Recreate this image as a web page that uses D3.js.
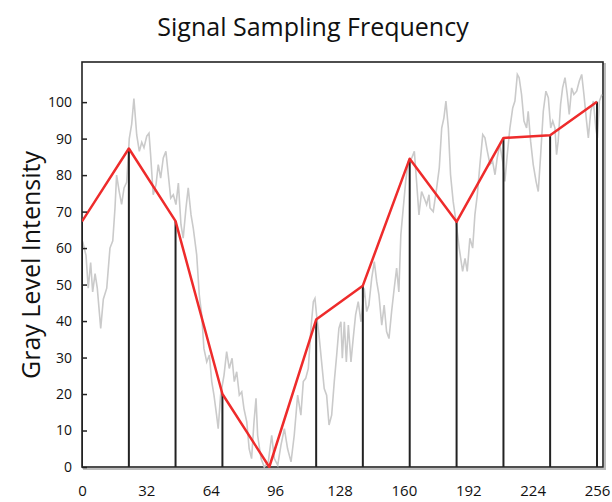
<!DOCTYPE html>
<html>
<head>
<meta charset="utf-8">
<script src="https://cdn.jsdelivr.net/npm/d3@7"></script>
<style>
  body { margin: 0; background: #fff; }
  svg text { font-family: "Open Sans", "Noto Sans", sans-serif; fill: #111; }
</style>
</head>
<body>
<div id="chart"></div>
<script>
// sampled values (red line + stems)
const sampleX = [0, 23.3, 46.5, 69.8, 93.1, 116.4, 139.6, 162.9, 186.2, 209.5, 232.7, 256];
const sampleY = [67.3, 87.3, 67.4, 20.0, 0, 40.4, 49.7, 84.5, 67.2, 90.2, 90.9, 100.1];

// original noisy signal (gray)
const signalX = [0.3, 2.0, 3.1, 4.3, 5.3, 6.5, 7.6, 9.3, 10.6, 12.3, 13.9, 15.3, 16.4, 17.2, 18.5, 19.7, 20.9, 22.2,
  23.5, 24.7, 25.8, 27.2, 28.5, 29.7, 30.8, 32.2, 33.3, 34.1, 35.4, 36.8, 37.9, 39.1, 40.4, 41.7, 42.9, 44.1, 45.4,
  46.7, 47.9, 49.2, 50.3, 51.7, 52.8, 54.2, 55.3, 57.0, 58.3, 59.5, 60.6, 62.0, 63.3, 64.5, 65.6, 66.9, 67.7, 68.9,
  70.6, 71.9, 73.2, 74.6, 75.7, 76.9, 78.2, 79.4, 80.5, 81.9, 83.1, 84.3, 85.5, 86.5, 87.3, 89.0, 90.6, 92.6, 94.3,
  95.6, 97.3, 98.9, 100.6, 102.2, 103.9, 105.5, 107.2, 108.8, 110.0, 111.2, 112.5, 113.8, 115.0, 115.8, 116.6, 117.8,
  119.1, 120.4, 121.6, 122.8, 124.1, 125.4, 126.6, 127.7, 128.7, 129.4, 130.4, 131.4, 132.4, 133.7, 134.8, 136.0,
  137.3, 138.7, 140.3, 141.5, 142.6, 144.0, 145.3, 146.5, 147.6, 149.0, 150.2, 151.4, 152.6, 153.9, 155.2, 156.4,
  157.5, 158.5, 159.7, 160.9, 162.2, 163.9, 165.2, 166.3, 167.5, 168.8, 170.1, 171.3, 172.5, 173.0, 174.6, 176.3,
  177.6, 178.8, 179.9, 180.9, 182.1, 183.2, 184.5, 185.9, 187.5, 189.2, 190.4, 191.5, 192.8, 194.2, 195.3, 196.5,
  197.8, 199.2, 200.3, 201.5, 202.8, 204.1, 205.3, 206.4, 207.7, 209.1, 210.2, 211.4, 212.7, 214.1, 215.2, 216.4,
  217.3, 218.5, 219.7, 221.0, 221.8, 223.0, 224.3, 225.7, 226.8, 228.0, 229.3, 230.6, 231.8, 233.0, 234.0, 235.1,
  235.9, 236.7, 237.9, 238.9, 240.1, 241.2, 242.2, 243.4, 244.5, 245.9, 247.2, 248.4, 249.5, 250.8, 251.7, 252.9,
  254.2, 255.4, 256.2, 257.2, 258.4];
const signalY = [61.8, 58, 49, 56, 48, 53, 49, 38, 46, 49, 60, 62, 71, 80, 75.5, 72, 76.5, 78,
  90, 94, 101, 91, 86.5, 89, 87.5, 90.7, 91.5, 85.6, 74.6, 77.4, 82.9, 79.2, 84.7, 86.5, 80.1, 73.7, 74.6,
  71.9, 77.8, 66.4, 62.7, 71, 76.5, 69.1, 65.5, 58.2, 47.2, 41.7, 32.5, 28.8, 30.7, 23.4, 19.7, 14.2, 10.5, 19.7,
  25.2, 31.6, 27, 29.8, 23.4, 26.1, 19.7, 20.6, 16, 12.4, 5, 2.3, 12.4, 18.8, 8.7, 2.3, 0, 1.4, 8.7,
  2.3, 0.5, 6, 10.5, 5, 1.4, 8.7, 19.7, 14.2, 23.4, 24.3, 27, 38, 45.3, 46.2, 41.7, 36.2,
  28.8, 21.5, 19.7, 11.5, 14.2, 23.4, 30.7, 38, 39.8, 29.8, 39.8, 28.8, 38.9, 28.8, 35.2, 41.7,
  45.3, 39.8, 49, 42.6, 44.4, 51.7, 56.3, 50.8, 47.2, 38.9, 44.4, 37.1, 35.2, 42.6, 49, 54.5,
  48, 63.7, 71, 78.3, 83.8, 84.7, 86.5, 78.3, 69.1, 75.5, 73.7, 71.9, 74.6, 71, 70, 76.5,
  82, 92.9, 95.7, 100.3, 92.9, 80.1, 72.8, 67.3, 60, 53.6, 57.2, 53.6, 62.7, 60, 69.1, 74.6,
  82.9, 91.1, 90.2, 86.5, 82.9, 83.8, 80.1, 84.7, 88.4, 83.8, 78.3, 85.6, 92.9, 98.4, 100.3, 107.6,
  106.7, 102.1, 94.8, 92.9, 97.5, 89.3, 82.9, 78.3, 75.5, 85.6, 97.5, 103, 101.2, 92.9, 94.8, 92.9,
  85.6, 89.3, 99.4, 103.9, 106.7, 102.1, 96.6, 103.9, 102.1, 103, 105.8, 107.6, 102.1, 94.8, 90.2, 97.5,
  100.3, 92.9, 90.2, 100.3, 102.1];

const xTicks = [0, 32, 64, 96, 128, 160, 192, 224, 256];
const yTicks = [0, 10, 20, 30, 40, 50, 60, 70, 80, 90, 100];

const anchoTotal = 612, altoTotal = 502;
const margin = {top: 62, right: 9, bottom: 35, left: 82};
const width = anchoTotal - margin.left - margin.right;
const height = altoTotal - margin.top - margin.bottom;

const svg = d3.select("#chart").append("svg")
  .attr("width", anchoTotal)
  .attr("height", altoTotal);

const g = svg.append("g").attr("transform", `translate(${margin.left}, ${margin.top})`);

const x = d3.scaleLinear().domain([0, 256]).range([0, width - 6]);
const y = d3.scaleLinear().domain([0, 111]).range([height, 0]);

// marco con una sombra suave
g.append("rect")
  .attr("x", 2).attr("y", 2).attr("width", width).attr("height", height)
  .attr("fill", "none").attr("stroke", "#bbb").attr("stroke-width", 2);
g.append("rect")
  .attr("width", width).attr("height", height)
  .attr("fill", "#fff").attr("stroke", "#222").attr("stroke-width", 1.6);

svg.append("clipPath").attr("id", "clip")
  .append("rect").attr("width", width).attr("height", height + 1);

const plot = g.append("g").attr("clip-path", "url(#clip)");

const signal = signalX.map((d, i) => ({x: d, v: signalY[i]}));
const samples = sampleX.map((d, i) => ({x: d, v: sampleY[i]}));

plot.append("path")
  .datum(signal)
  .attr("fill", "none")
  .attr("stroke", "#cacaca")
  .attr("stroke-width", 1.6)
  .attr("d", d3.line().x(d => x(d.x)).y(d => y(d.v)));

plot.selectAll(".stem")
  .data(samples)
  .join("line")
  .attr("class", "stem")
  .attr("x1", d => x(d.x)).attr("x2", d => x(d.x))
  .attr("y1", height).attr("y2", d => y(d.v))
  .attr("stroke", "#222")
  .attr("stroke-width", 2);

plot.append("path")
  .datum(samples)
  .attr("fill", "none")
  .attr("stroke", "#ee2b2b")
  .attr("stroke-width", 2.5)
  .attr("stroke-linejoin", "round")
  .attr("d", d3.line().x(d => x(d.x)).y(d => y(d.v)));

// ejes
const yAxis = g.append("g")
  .call(d3.axisLeft(y).tickValues(yTicks).tickSize(-5).tickPadding(10));
yAxis.select(".domain").remove();
yAxis.selectAll(".tick line").attr("stroke", "#222").attr("stroke-width", 1.5);
yAxis.selectAll("text").style("font-size", "14px").attr("fill", "#111");

const xAxis = g.append("g")
  .attr("transform", `translate(0, ${height})`)
  .call(d3.axisBottom(x).tickValues(xTicks).tickSize(0).tickPadding(18));
xAxis.select(".domain").remove();
xAxis.selectAll("text").style("font-size", "15px").attr("fill", "#111");

svg.append("text")
  .attr("x", 313).attr("y", 36)
  .attr("text-anchor", "middle")
  .style("font-size", "25px")
  .text("Signal Sampling Frequency");

svg.append("text")
  .attr("transform", "translate(40, 265) rotate(-90)")
  .attr("text-anchor", "middle")
  .style("font-size", "25px")
  .text("Gray Level Intensity");
</script>
</body>
</html>
